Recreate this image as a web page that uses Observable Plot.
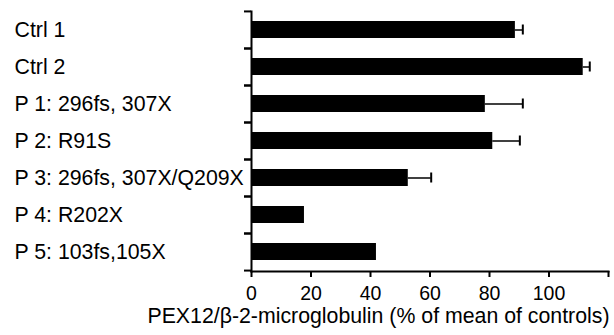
<!DOCTYPE html>
<html>
<head>
<meta charset="utf-8">
<script src="https://cdn.jsdelivr.net/npm/d3@7"></script>
<script src="https://cdn.jsdelivr.net/npm/@observablehq/plot@0.6"></script>
<style>
  html, body { margin: 0; padding: 0; background: #fff; }
  #chart svg { display: block; }
</style>
</head>
<body>
<div id="chart"></div>
<script>
const labels = ["Ctrl 1", "Ctrl 2", "P 1: 296fs, 307X", "P 2: R91S", "P 3: 296fs, 307X/Q209X", "P 4: R202X", "P 5: 103fs,105X"];
const values = [88.7, 111.5, 78.6, 81.1, 52.7, 17.8, 42.0];
const errors = [91.2, 113.7, 91.2, 90.2, 60.4, null, null];
const xTicks = [0, 20, 40, 60, 80, 100, 120];
const xTickLabels = ["0", "20", "40", "60", "80", "100", ""];
const xTitle = "PEX12/β-2-microglobulin (% of mean of controls)";

const data = labels.map((label, i) => ({label, value: values[i], err: errors[i]}));
const errData = data.filter(d => d.err != null);

const W = 614, H = 335, mL = 251, mR = 6, mT = 11, mB = 64;
const step = (H - mT - mB) / labels.length;
const font = "Liberation Sans, Arial, Helvetica, sans-serif";

const chart = Plot.plot({
  width: W, height: H,
  marginLeft: mL, marginRight: mR, marginTop: mT, marginBottom: mB,
  style: {fontFamily: font, color: "#000", background: "#fff", overflow: "visible"},
  x: {domain: [0, 120]},
  y: {domain: labels, paddingInner: 0.54, paddingOuter: 0.27},
  marks: [
    Plot.barX(data, {y: "label", x: "value", fill: "#000"}),
    Plot.ruleY(errData, {y: "label", x1: "value", x2: "err", stroke: "#000", strokeWidth: 1.5}),
    Plot.tickX(errData, {y: "label", x: "err", stroke: "#000", strokeWidth: 2, insetTop: 3.5, insetBottom: 3.5}),
    Plot.frame({anchor: "left", stroke: "#000", strokeWidth: 2}),
    Plot.frame({anchor: "bottom", stroke: "#000", strokeWidth: 2}),
    Plot.axisY({tickSize: 7, tickFormat: () => "", dy: -step / 2, stroke: "#000", strokeWidth: 2, label: null}),
    Plot.axisY({tickSize: 7, tickFormat: () => "", dy: step / 2, stroke: "#000", strokeWidth: 2, label: null}),
    Plot.text(data, {y: "label", text: "label", frameAnchor: "left", textAnchor: "start", dx: 14 - mL, fontSize: 21.3, fill: "#000"}),
    Plot.axisX({ticks: xTicks, tickFormat: (d) => xTickLabels[xTicks.indexOf(d)], tickSize: 6, tickPadding: 9, fontSize: 19.5, stroke: "#000", strokeWidth: 2, label: null, color: "#000"}),
    Plot.text([xTitle], {frameAnchor: "bottom-right", textAnchor: "end", dx: 1, dy: 51, fontSize: 21.3, fill: "#000"})
  ]
});
document.getElementById("chart").appendChild(chart);
</script>
</body>
</html>
